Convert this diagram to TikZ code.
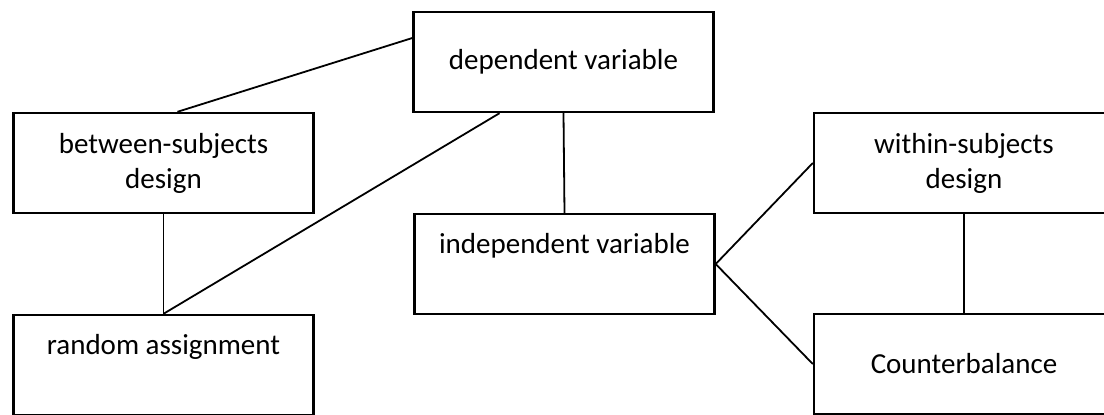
\documentclass[tikz,border=0pt]{standalone}
\usepackage{fontspec}
\setmainfont{Carlito}
\begin{document}
\begin{tikzpicture}[x = .5pt, y = -.5pt,
	box/.style = {draw, line width=1.2pt, minimum width=150pt, minimum height=50pt, inner sep=2pt, align=center, font=\fontsize{14.5}{17.5}\selectfont},
	topbox/.style = {box, text height=11pt, text depth=22pt},
	link/.style = {line width=.9pt}]

	\useasboundingbox (0,0) rectangle (1104,414);
	\clip (0,0) rectangle (1104,414);

	\node[box] (dep) at (563.5,62) {dependent variable};
	\node[box] (btw) at (163.5,163) {between-subjects\\design};
	\node[topbox] (ind) at (564.5,264) {independent variable};
	\node[box] (wth) at (964,163) {within-subjects\\design};
	\node[topbox] (rnd) at (163.5,365) {random assignment};
	\node[box] (cnt) at (964,364) {Counterbalance};

	\draw[link] ([xshift=7pt]btw.north) -- ([yshift=12pt]dep.west);
	\draw[link] ([xshift=-32pt]dep.south) -- (rnd.north);
	\draw[link] (dep.south) -- (ind.north);
	\draw[link] (btw.south) -- (rnd.north);
	\draw[link] (ind.east) -- (wth.west);
	\draw[link] (ind.east) -- (cnt.west);
	\draw[link] (wth.south) -- (cnt.north);
\end{tikzpicture}
\end{document}
